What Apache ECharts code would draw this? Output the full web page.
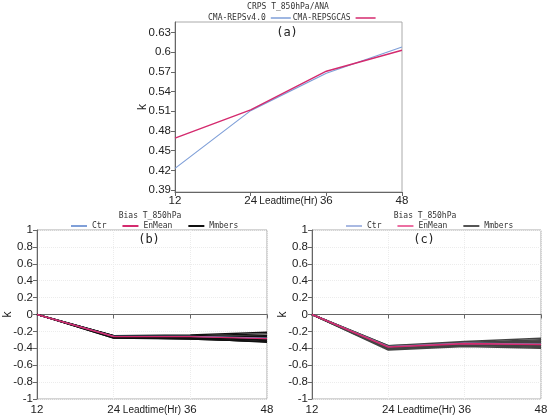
<!DOCTYPE html>
<html>
<head>
	<meta charset="UTF-8">
	<title>CRPS / Bias T_850hPa</title>
	<script src="https://cdn.jsdelivr.net/npm/echarts@6/dist/echarts.min.js"></script>
	<style>
		body { margin: 0; background: #fff; }
	</style>
</head>
<body>
<div id="main" style="width: 550px;height:420px;"></div>
<script type="text/javascript">
	// 预报时效
	var leadtimes = [12, 24, 36, 48];

	// (a) CRPS
	var crpsV4 = [0.423, 0.511, 0.568, 0.608];
	var crpsGcas = [0.469, 0.512, 0.571, 0.603];
	var yTicksA = [0.39, 0.42, 0.45, 0.48, 0.51, 0.54, 0.57, 0.6, 0.63];

	// (b) Bias
	var ctrB = [0, -0.26, -0.26, -0.28];
	var meanB = [0, -0.26, -0.262, -0.285];
	var membersB = [
		[0, -0.25, -0.24, -0.21],
		[0, -0.26, -0.25, -0.23],
		[0, -0.27, -0.26, -0.25],
		[0, -0.25, -0.27, -0.27],
		[0, -0.26, -0.28, -0.30],
		[0, -0.27, -0.29, -0.32],
		[0, -0.28, -0.28, -0.33],
		[0, -0.26, -0.26, -0.28],
		[0, -0.27, -0.27, -0.31],
		[0, -0.25, -0.26, -0.26],
		[0, -0.26, -0.27, -0.29],
		[0, -0.28, -0.29, -0.32]
	];

	// (c) Bias
	var ctrC = [0, -0.38, -0.34, -0.35];
	var meanC = [0, -0.385, -0.345, -0.355];
	var membersC = [
		[0, -0.37, -0.32, -0.28],
		[0, -0.38, -0.33, -0.30],
		[0, -0.39, -0.34, -0.32],
		[0, -0.40, -0.35, -0.34],
		[0, -0.41, -0.37, -0.37],
		[0, -0.42, -0.38, -0.40],
		[0, -0.38, -0.36, -0.39],
		[0, -0.39, -0.33, -0.33],
		[0, -0.40, -0.36, -0.36],
		[0, -0.37, -0.34, -0.31],
		[0, -0.41, -0.35, -0.38],
		[0, -0.38, -0.37, -0.35]
	];

	var blue = '#7f9fd8';
	var pink = '#d42a6e';
	var mono = 'DejaVu Sans Mono';
	var sans = 'Liberation Sans';

	function pairs(vals) {
		var arr = [];
		for (var i = 0; i < leadtimes.length; i++) {
			arr.push([leadtimes[i], vals[i]]);
		}
		return arr;
	}

	function xAxisFor(idx) {
		var m = idx > 0 ? 5 : 3;
		return {
			type: 'value', gridIndex: idx, min: 12, max: 48, interval: 12,
			name: 'Leadtime(Hr)', nameLocation: 'middle', nameGap: m + 1, nameMoveOverlap: false,
			nameTextStyle: { fontFamily: sans, fontSize: 10, color: '#222' },
			axisLine: { lineStyle: { color: '#666' } },
			axisTick: { length: 4, lineStyle: { color: '#666' } },
			axisLabel: { margin: m, fontFamily: sans, fontSize: 11.5, color: '#222' },
			splitLine: { show: idx > 0, lineStyle: { color: '#ececec', type: 'dotted' } }
		};
	}

	function yAxisFor(idx, extra) {
		var ax = {
			type: 'value', gridIndex: idx,
			name: 'k', nameLocation: 'middle', nameRotate: 90, nameMoveOverlap: false,
			nameTextStyle: { fontFamily: sans, fontSize: 12, color: '#222' },
			axisLine: { show: true, lineStyle: { color: '#666' } },
			axisTick: { show: true, length: 4, lineStyle: { color: '#666' } },
			axisLabel: { margin: 4, fontFamily: sans, fontSize: 11.5, color: '#222' },
			splitLine: { show: idx > 0, lineStyle: { color: '#ececec', type: 'dotted' } }
		};
		for (var k in extra) ax[k] = extra[k];
		return ax;
	}

	function line(name, vals, idx, color, width, z) {
		return {
			name: name, type: 'line', xAxisIndex: idx, yAxisIndex: idx,
			symbol: 'none', silent: true, z: z,
			lineStyle: { color: color, width: width },
			itemStyle: { color: color },
			data: pairs(vals)
		};
	}

	var series = [];
	series.push(line('CMA-REPSv4.0', crpsV4, 0, blue, 1.2, 3));
	series.push(line('CMA-REPSGCAS', crpsGcas, 0, pink, 1.4, 4));
	for (var i = 0; i < membersB.length; i++) {
		series.push(line('Mmbers', membersB[i], 1, '#111', 1.3, 2));
	}
	series.push(line('Ctr', ctrB, 1, blue, 1.3, 3));
	series.push(line('EnMean', meanB, 1, pink, 1.4, 4));
	for (var j = 0; j < membersC.length; j++) {
		series.push(line('Mmbers', membersC[j], 2, '#444', 1.5, 2));
	}
	series.push(line('Ctr', ctrC, 2, blue, 1.3, 3));
	series.push(line('EnMean', meanC, 2, pink, 1.6, 4));

	function legendItems(light) {
		return [
			{ name: 'Ctr', itemStyle: { color: light ? '#a9b9e2' : blue } },
			{ name: 'EnMean', itemStyle: { color: light ? '#ec6fa2' : pink } },
			{ name: 'Mmbers', itemStyle: { color: light ? '#555' : '#111' } }
		];
	}

	var titleText = { fontFamily: mono, fontSize: 8, fontWeight: 'normal', color: '#333' };
	var tagText = { fontFamily: mono, fontSize: 12, fontWeight: 'normal', color: '#222' };
	var legendText = { fontFamily: mono, fontSize: 8, color: '#333' };
	var gridBase = { show: true, borderColor: '#aaa', borderWidth: 1, outerBoundsMode: 'none', containLabel: false };

	function gridAt(left, top, width, height) {
		var g = { left: left, top: top, width: width, height: height };
		for (var k in gridBase) g[k] = gridBase[k];
		return g;
	}

	var myChart = echarts.init(document.getElementById('main'));
	var option = {
		backgroundColor: '#fff',
		animation: false,
		title: [
			{ text: 'CRPS T_850hPa/ANA', left: 288, top: 3, padding: 0, textAlign: 'center', textStyle: titleText },
			{ text: 'Bias T_850hPa', left: 150, top: 212, padding: 0, textAlign: 'center', textStyle: titleText },
			{ text: 'Bias T_850hPa', left: 425, top: 212, padding: 0, textAlign: 'center', textStyle: titleText },
			{ text: '(a)', left: 287, top: 27, padding: 0, textAlign: 'center', textStyle: tagText },
			{ text: '(b)', left: 149, top: 234, padding: 0, textAlign: 'center', textStyle: tagText },
			{ text: '(c)', left: 424, top: 234, padding: 0, textAlign: 'center', textStyle: tagText }
		],
		legend: [
			{
				left: 208, top: 14, align: 'right', icon: 'rect', itemGap: 2, itemWidth: 20, itemHeight: 1.5,
				padding: 0, textStyle: legendText,
				data: [
					{ name: 'CMA-REPSv4.0', itemStyle: { color: blue } },
					{ name: 'CMA-REPSGCAS', itemStyle: { color: pink } }
				]
			},
			{
				left: 71, top: 222, align: 'left', icon: 'rect', itemGap: 16, itemWidth: 16, itemHeight: 2,
				padding: 0, textStyle: legendText,
				data: legendItems(false)
			},
			{
				left: 346, top: 222, align: 'left', icon: 'rect', itemGap: 16, itemWidth: 16, itemHeight: 2,
				padding: 0, textStyle: legendText,
				data: legendItems(true)
			}
		],
		grid: [
			gridAt(175, 22, 227, 170),
			gridAt(37, 230, 230, 169),
			gridAt(312, 230, 229, 169)
		],
		xAxis: [xAxisFor(0), xAxisFor(1), xAxisFor(2)],
		yAxis: [
			yAxisFor(0, {
				min: 0.387, max: 0.646, nameGap: 26,
				axisLabel: { margin: 4, fontFamily: sans, fontSize: 11.5, color: '#222', customValues: yTicksA },
				axisTick: { show: true, length: 4, lineStyle: { color: '#666' }, customValues: yTicksA }
			}),
			yAxisFor(1, { min: -1, max: 1, interval: 0.2, nameGap: 23 }),
			yAxisFor(2, { min: -1, max: 1, interval: 0.2, nameGap: 23 })
		],
		series: series
	};
	myChart.setOption(option);
</script>
</body>
</html>
